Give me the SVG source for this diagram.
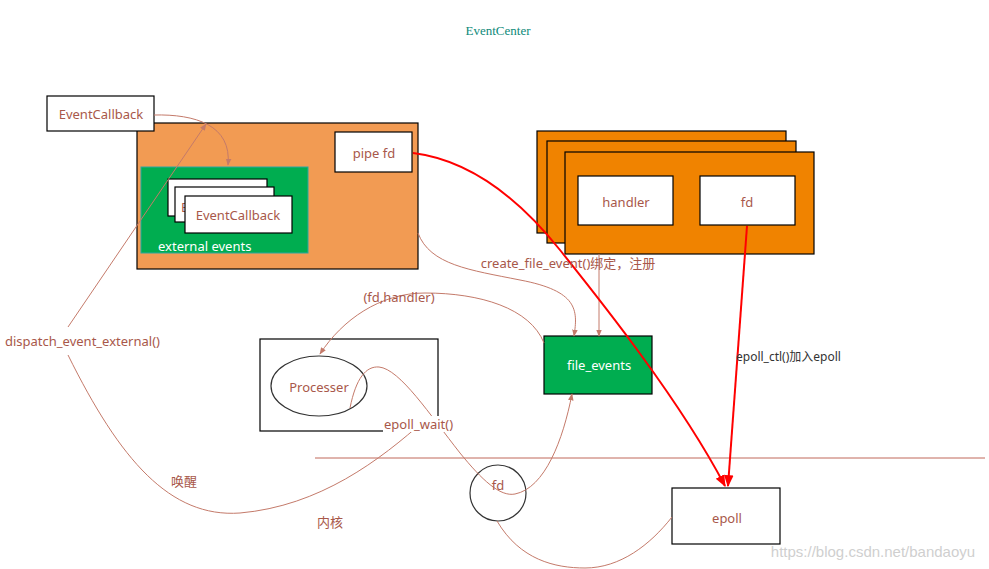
<svg xmlns="http://www.w3.org/2000/svg" width="989" height="569" viewBox="0 0 989 569">
<style>
text{font-family:"Noto Sans","Noto Sans CJK SC",sans-serif;font-size:13px;fill:#a8584a}
.c{text-anchor:middle;dominant-baseline:central}
.box{fill:#fff;stroke:#000;stroke-width:1.2}
.org{fill:#f08300;stroke:#000;stroke-width:1.2}
.con{fill:none;stroke:#c47a6a;stroke-width:1}
.red{fill:none;stroke:#ff0000;stroke-width:2}
</style>
<defs>
<marker id="ah" viewBox="0 0 10 10" refX="9" refY="5" markerWidth="7" markerHeight="7" orient="auto" markerUnits="userSpaceOnUse"><path d="M0,1 L10,5 L0,9 z" fill="#c47a6a"/></marker>
<marker id="rh" viewBox="0 0 10 10" refX="9" refY="5" markerWidth="12" markerHeight="12" orient="auto" markerUnits="userSpaceOnUse"><path d="M0,1 L10,5 L0,9 z" fill="#ff0000"/></marker>
</defs>
<rect width="989" height="569" fill="#fff"/>
<text x="498" y="30" class="c" style="font-family:'Liberation Serif',serif;fill:#0e8a7a">EventCenter</text>
<line x1="315" y1="458" x2="985" y2="458" stroke="#c0685a" stroke-width="1"/>

<g id="eventCenterBox">
<rect x="137" y="123" width="281" height="146" fill="#f29b53" stroke="#000" stroke-width="1.2"/>
</g>
<g id="externalEvents">
<rect x="141" y="167" width="167" height="86" fill="#00ad50" stroke="#2aa8a0" stroke-width="1"/>
<text x="158" y="251" style="fill:#fff">external events</text>
<rect x="168" y="179" width="99" height="37" class="box"/>
<rect x="175" y="187" width="99" height="35" class="box"/>
<text x="181" y="212">E</text>
<rect x="185" y="196" width="107" height="37" class="box"/>
<text x="238" y="215" class="c">EventCallback</text>
</g>
<g id="pipeFd">
<rect x="335" y="132" width="77" height="40" class="box"/>
<text x="374" y="153" class="c">pipe fd</text>
</g>
<g id="eventCallback">
<rect x="47" y="96" width="107" height="35" class="box"/>
<text x="101" y="114" class="c">EventCallback</text>
</g>
<g id="fileEventStack">
<rect x="537" y="131" width="249" height="102" class="org"/>
<rect x="547" y="141" width="249" height="102" class="org"/>
<rect x="565" y="152" width="249" height="102" class="org"/>
<rect x="578" y="176" width="95" height="49" class="box"/>
<text x="626" y="202" class="c">handler</text>
<rect x="700" y="176" width="95" height="49" class="box"/>
<text x="747" y="202" class="c">fd</text>
</g>
<g id="fileEvents">
<rect x="544" y="336" width="108" height="58" fill="#00ad50" stroke="#000" stroke-width="1.2"/>
<text x="599" y="365" class="c" style="fill:#fff">file_events</text>
</g>
<g id="processerBox">
<rect x="260" y="339" width="178" height="92" fill="none" stroke="#000" stroke-width="1.2"/>
<ellipse cx="319" cy="386" rx="48" ry="30" fill="none" stroke="#333" stroke-width="1.2"/>
<text x="319" y="387" class="c">Processer</text>
</g>
<g id="fdCircle">
<circle cx="498" cy="493" r="28" fill="none" stroke="#333" stroke-width="1.2"/>
</g>
<g id="epoll">
<rect x="672" y="488" width="108" height="56" class="box"/>
<text x="727" y="518" class="c">epoll</text>
</g>

<g id="connectors">
<path class="con" d="M154,115 C195,114 232,125 228,165" marker-end="url(#ah)"/>
<line class="con" x1="68" y1="327" x2="206" y2="124" marker-end="url(#ah)"/>
<path class="con" d="M68,355 C120,460 170,518 240,513 C320,506 380,460 425,420" marker-end="url(#ah)"/>
<path class="con" d="M350,408 C356,378 366,366 379,367 C400,369 430,415 460,453 C482,480 500,497 515,494 C545,488 563,440 572,394" marker-end="url(#ah)"/>
<path class="con" d="M497,521 C520,560 555,568 585,568 C620,568 650,545 672,517"/>
<path class="con" d="M418,233 C430,265 470,270 520,280 C578,291 578,310 574,336" marker-end="url(#ah)"/>
<line class="con" x1="599" y1="254" x2="599" y2="336" marker-end="url(#ah)"/>
<path class="con" d="M544,343 C530,308 480,293 425,293 C380,293 342,320 320,354" marker-end="url(#ah)"/>
<path class="red" d="M413,153 C470,160 520,200 560,250 C600,300 680,400 725,486" marker-end="url(#rh)"/>
<line class="red" x1="747" y1="226" x2="728" y2="486" marker-end="url(#rh)"/>
</g>

<text x="5" y="341" dominant-baseline="central">dispatch_event_external()</text>
<text x="399" y="297" class="c">(fd,handler)</text>
<text x="568" y="263" class="c">create_file_event()绑定，注册</text>
<text x="736" y="356" dominant-baseline="central" style="fill:#333;font-size:12px">epoll_ctl()加入epoll</text>
<rect x="383" y="416" width="72" height="16" fill="#fff"/>
<text x="384" y="424" dominant-baseline="central">epoll_wait()</text>
<text x="498" y="485" class="c">fd</text>
<text x="184" y="481" class="c">唤醒</text>
<text x="330" y="522" class="c">内核</text>
<text x="873" y="551" class="c" style="font-family:'Liberation Sans',sans-serif;font-size:15px;fill:#cfcfcf">https://blog.csdn.net/bandaoyu</text>
</svg>
